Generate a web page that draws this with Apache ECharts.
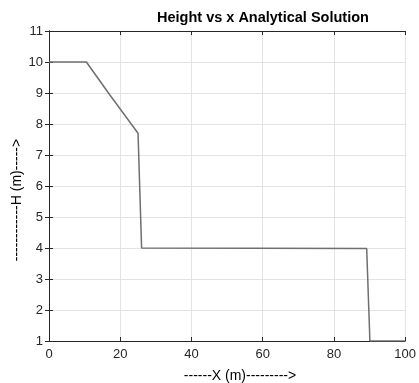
<!DOCTYPE html>
<html>
<head>
<meta charset="utf-8">
<script src="https://cdn.jsdelivr.net/npm/echarts@6/dist/echarts.min.js"></script>
<style>
  html, body { margin: 0; padding: 0; background: #fff; }
  #chart { width: 419px; height: 383px; }
</style>
</head>
<body>
<div id="chart"></div>
<script>
// Water depth profile along the channel
const xPos   = [0, 10.5, 17, 25, 26, 89.2, 90.1, 100];
const height = [10, 10, 8.95, 7.7, 4.0, 3.98, 1.0, 1.0];

const xTicks = [0, 20, 40, 60, 80, 100];
const yTicks = [1, 2, 3, 4, 5, 6, 7, 8, 9, 10, 11];

const titleText = 'Height vs x Analytical Solution';
const xLabelText = '------X (m)--------->';
const yLabelText = '------------H (m)----->';

const chart = echarts.init(document.getElementById('chart'), null, { renderer: 'canvas' });

const font = 'Liberation Sans, Arial, Helvetica, sans-serif';
const labelColor = '#262626';
const gridColor = '#e3e3e3';

const pts = xPos.map((x, i) => [x, height[i]]);

chart.setOption({
  animation: false,
  backgroundColor: '#fff',
  grid: { left: 49, right: 9, top: 31, bottom: 42, containLabel: false },
  graphic: [{
    type: 'text',
    left: 157, top: 10,
    style: { text: titleText, font: 'bold 14.5px ' + font, fill: '#000' }
  }, {
    type: 'text',
    x: 240, y: 376,
    style: { text: xLabelText, font: '14px ' + font, fill: '#000',
             textAlign: 'center', textVerticalAlign: 'middle' }
  }, {
    type: 'text',
    x: 17, y: 200,
    rotation: Math.PI / 2,
    style: { text: yLabelText, font: '14px ' + font, fill: '#000',
             textAlign: 'center', textVerticalAlign: 'middle' }
  }],
  xAxis: [{
    type: 'value',
    min: xTicks[0], max: xTicks[xTicks.length - 1], interval: 20,
    axisLine: { onZero: false, lineStyle: { color: '#262626', width: 1 } },
    axisTick: { inside: true, length: 4, lineStyle: { color: '#262626' } },
    axisLabel: { fontFamily: font, fontSize: 13, color: labelColor, margin: 7 },
    splitLine: { show: true, lineStyle: { color: gridColor, width: 1 } }
  }, {
    type: 'value', position: 'top',
    min: xTicks[0], max: xTicks[xTicks.length - 1], interval: 20,
    axisLine: { show: true, lineStyle: { color: '#262626', width: 1 } },
    axisTick: { inside: true, length: 4, lineStyle: { color: '#262626' } },
    axisLabel: { show: false },
    splitLine: { show: false }
  }],
  yAxis: [{
    type: 'value',
    min: yTicks[0], max: yTicks[yTicks.length - 1], interval: 1,
    axisLine: { onZero: false, lineStyle: { color: '#262626', width: 1 } },
    axisTick: { inside: true, length: 4, lineStyle: { color: '#262626' } },
    axisLabel: { fontFamily: font, fontSize: 13, color: labelColor, margin: 6 },
    splitLine: { show: true, lineStyle: { color: gridColor, width: 1 } }
  }, {
    type: 'value', position: 'right',
    min: yTicks[0], max: yTicks[yTicks.length - 1], interval: 1,
    axisLine: { show: true, lineStyle: { color: '#262626', width: 1 } },
    axisTick: { inside: true, length: 4, lineStyle: { color: '#262626' } },
    axisLabel: { show: false },
    splitLine: { show: false }
  }],
  series: [{
    type: 'line',
    data: pts,
    xAxisIndex: 0,
    yAxisIndex: 0,
    showSymbol: false,
    symbol: 'none',
    lineStyle: { color: '#6f6f6f', width: 1.5 },
    z: 3
  }]
});
</script>
</body>
</html>
